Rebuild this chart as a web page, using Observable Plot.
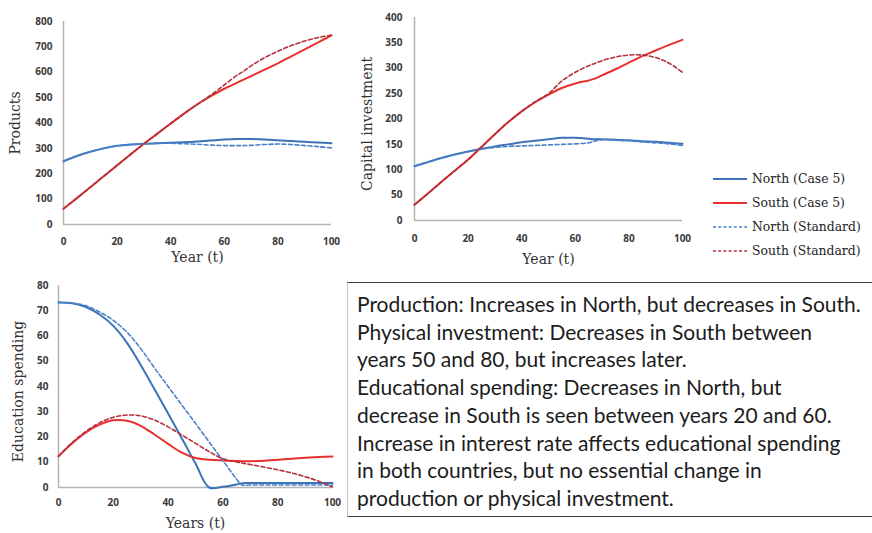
<!DOCTYPE html>
<html>
<head>
<meta charset="utf-8">
<script src="https://cdn.jsdelivr.net/npm/d3@7"></script>
<script src="https://cdn.jsdelivr.net/npm/@observablehq/plot@0.6"></script>
<style>
  html, body { margin: 0; padding: 0; background: #fff; }
  #root { position: relative; width: 872px; height: 533px; overflow: hidden; background: #fff; }
  .abs { position: absolute; }
  #note {
    position: absolute; left: 347px; top: 282px; width: 525px; height: 235px;
    border-top: 1.5px solid #3c3c3c; border-bottom: 1.5px solid #3c3c3c; border-left: 1px solid #c4c4c4;
    box-sizing: border-box; padding: 7px 0 0 9px;
    font-family: Lato, "Open Sans", sans-serif; font-size: 21px; line-height: 27.7px; color: #1c1c1c;
    white-space: pre;
  }
</style>
</head>
<body>
<div id="root"></div>
<script>
// ---- data ----
const years = [0,5,10,15,20,25,30,35,40,45,50,55,60,65,67,70,75,80,85,90,95,100];
const xTicks = [0,20,40,60,80,100];

// Panel 1: Products
const productsNorthCase5    = [249,270,287,300,310,315,318,320,322,324,327,331,335,337,337,337,335,332,329,326,323,320];
const productsSouthCase5    = [62,104,147,190,233,276,318,358,398,437,474,506,535,560,570,585,610,635,663,690,718,745];
const productsNorthStandard = [249,270,287,300,310,315,318,320,320,318,316,313,311,311,311,312,315,317,315,311,307,302];
const productsSouthStandard = [62,104,147,190,233,276,318,358,398,437,474,510,550,590,603,625,657,683,705,723,737,746];
const productsTicks = [0,100,200,300,400,500,600,700,800];

// Panel 2: Capital investment
const capitalNorthCase5    = [107,115,123,130,136,141,146,150,154,157,160,163,163,161,160,160,159,158,156,155,153,151];
const capitalSouthCase5    = [31,53,76,98,120,145,170,194,215,233,248,261,270,276,279,286,298,311,324,335,346,356];
const capitalNorthStandard = [107,115,123,130,136,141,144,146,147,148,149,150,151,153,156,159,158,157,155,153,151,148];
const capitalSouthStandard = [31,53,76,98,120,145,170,194,215,234,250,275,292,305,309,315,322,326,326,321,310,292];
const capitalTicks = [0,50,100,150,200,250,300,350,400];

// Panel 3: Education spending
const eduNorthCase5    = [73.3,73,71.5,68.5,64,57.3,48.5,39,29.3,19.5,9.5,0,0.3,1.2,1.7,1.8,1.8,1.8,1.8,1.8,1.8,1.8];
const eduSouthCase5    = [12.4,17.5,21.8,24.9,26.6,26.4,24.4,21,17.3,13.8,11.7,11.0,10.7,10.5,10.4,10.4,10.6,11.0,11.4,11.8,12.1,12.3];
const eduNorthStandard = [73.3,73,72,69.5,66.2,61.5,55,47.4,40,32.7,25.4,18,10.7,3.3,1.0,1.0,1.0,1.0,1.0,1.0,1.0,1.0];
const eduSouthStandard = [12.4,17.8,22.2,25.6,27.8,28.7,28.4,26.7,24,20.8,17.5,14.2,11.4,10.1,9.7,9.1,8.1,7.0,5.8,4.3,2.5,0.2];
const eduTicks = [0,10,20,30,40,50,60,70,80];

const seriesNames  = ["North (Case 5)", "South (Case 5)", "North (Standard)", "South (Standard)"];
const seriesColors = ["#3b73b9", "#e8302f", "#4a82c8", "#b3303c"];
const seriesDashed = [false, false, true, true];

const noteLines = [
  "Production: Increases in North, but decreases in South.",
  "Physical investment: Decreases in South between",
  "years 50 and 80, but increases later.",
  "Educational spending: Decreases in North, but",
  "decrease in South is seen between years 20 and 60.",
  "Increase in interest rate affects educational spending",
  "in both countries, but no essential change in",
  "production or physical investment."
];

// ---- drawing ----
const root = document.getElementById("root");
const tidy = vals => years.map((t, i) => ({t, v: vals[i]}));

function panel(cfg) {
  const lineMarks = cfg.series.map((vals, i) => Plot.line(tidy(vals), {
    x: "t", y: "v", curve: "catmull-rom",
    stroke: seriesColors[i],
    strokeWidth: seriesDashed[i] ? 1.6 : 2,
    strokeDasharray: seriesDashed[i] ? "4,2.5" : null
  }));
  const svg = Plot.plot({
    width: cfg.width, height: cfg.height,
    marginLeft: cfg.ml, marginRight: cfg.mr, marginTop: cfg.mt, marginBottom: cfg.mb,
    style: {fontFamily: "'Open Sans', sans-serif", fontSize: "10px", fontWeight: "bold", color: "#3a3a3a", background: "transparent", overflow: "visible"},
    x: {domain: [0, 100]},
    y: {domain: [cfg.yTicks[0], cfg.yTicks[cfg.yTicks.length - 1]]},
    marks: [
      Plot.ruleY([cfg.yTicks[0]], {stroke: "#b4b4b4", strokeWidth: 1.5}),
      Plot.ruleX([0], {stroke: "#b4b4b4", strokeWidth: 1.5}),
      Plot.axisX({ticks: xTicks, tickSize: 0, tickPadding: cfg.padX, label: null}),
      Plot.axisY({ticks: cfg.yTicks, tickSize: 0, tickPadding: cfg.padY, label: null}),
      ...lineMarks,
      Plot.text([cfg.yLabel], {text: d => d, frameAnchor: "left", textAnchor: "middle", lineAnchor: "middle",
        rotate: -90, dx: cfg.yLabelDx, dy: cfg.yLabelDy,
        fontFamily: "DejaVu Serif", fontSize: 14, fontWeight: "normal", fill: "#333"}),
      Plot.text([cfg.xLabel], {text: d => d, frameAnchor: "bottom", textAnchor: "middle", lineAnchor: "middle",
        dy: cfg.xLabelDy,
        fontFamily: "DejaVu Serif", fontSize: 14, fontWeight: "normal", fill: "#333"})
    ]
  });
  const wrap = document.createElement("div");
  wrap.className = "abs";
  wrap.style.left = cfg.left + "px";
  wrap.style.top = cfg.top + "px";
  wrap.appendChild(svg);
  root.appendChild(wrap);
}

panel({left: 0, top: 0, width: 345, height: 270, ml: 63, mr: 14, mt: 21, mb: 46,
  yTicks: productsTicks, padX: 13, padY: 11,
  series: [productsNorthCase5, productsSouthCase5, productsNorthStandard, productsSouthStandard],
  yLabel: "Products", xLabel: "Year (t)", yLabelDx: -48, yLabelDy: 0, xLabelDy: 33});

panel({left: 345, top: 0, width: 355, height: 270, ml: 69, mr: 18, mt: 17, mb: 50,
  yTicks: capitalTicks, padX: 14, padY: 12,
  series: [capitalNorthCase5, capitalSouthCase5, capitalNorthStandard, capitalSouthStandard],
  yLabel: "Capital investment", xLabel: "Year (t)", yLabelDx: -47, yLabelDy: 5, xLabelDy: 39});

panel({left: 0, top: 270, width: 345, height: 263, ml: 58, mr: 13, mt: 15, mb: 46,
  yTicks: eduTicks, padX: 11, padY: 10,
  series: [eduNorthCase5, eduSouthCase5, eduNorthStandard, eduSouthStandard],
  yLabel: "Education spending", xLabel: "Years (t)", yLabelDx: -40, yLabelDy: 5, xLabelDy: 36});

// legend
const leg = d3.select(root).append("svg").attr("class", "abs")
  .style("left", "705px").style("top", "165px")
  .attr("width", 167).attr("height", 100);
seriesNames.forEach((name, i) => {
  const g = leg.append("g").attr("transform", `translate(0, ${14 + i * 24})`);
  g.append("line").attr("x1", 8).attr("x2", 42).attr("y1", 0).attr("y2", 0)
    .attr("stroke", seriesColors[i]).attr("stroke-width", seriesDashed[i] ? 1.4 : 2)
    .attr("stroke-dasharray", seriesDashed[i] ? "3,2.2" : null);
  g.append("text").attr("x", 47).attr("y", 0).attr("dy", "0.35em")
    .attr("font-family", "DejaVu Serif").attr("font-size", 12.4).attr("fill", "#222")
    .text(name);
});

// note box
const note = document.createElement("div");
note.id = "note";
note.textContent = noteLines.join("\n");
root.appendChild(note);
</script>
</body>
</html>
